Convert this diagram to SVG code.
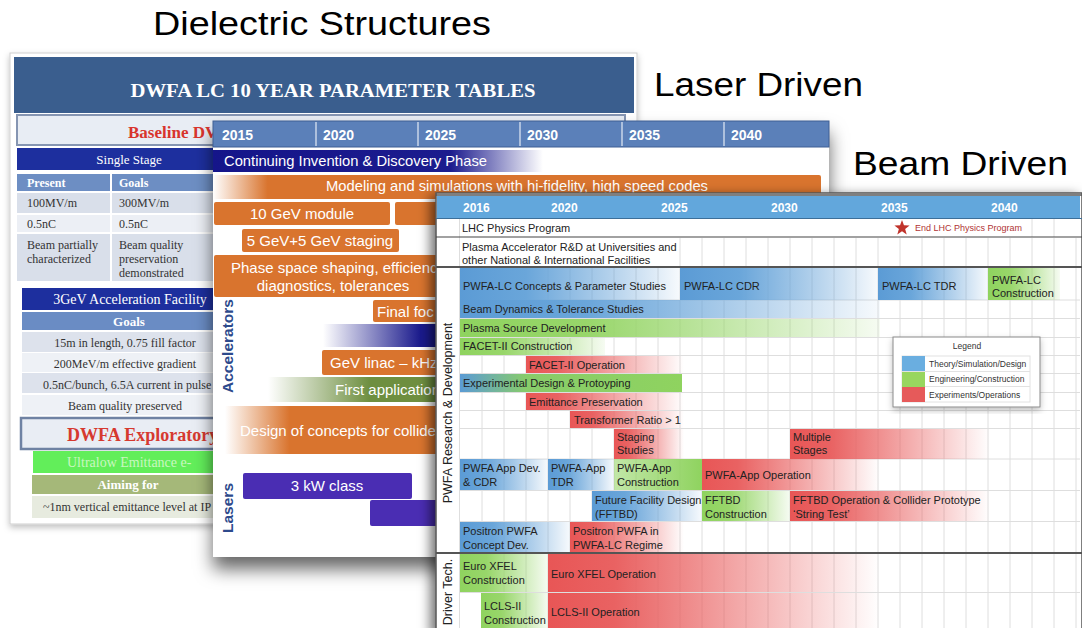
<svg xmlns="http://www.w3.org/2000/svg" width="1082" height="628" viewBox="0 0 1082 628">
<style>
.sans{font-family:"Liberation Sans",Arial,sans-serif}
.serif{font-family:"Liberation Serif","Times New Roman",serif}
.big{font-family:"Liberation Sans",Arial,sans-serif;font-size:34px;fill:#000}
.lt{font-family:"Liberation Serif","Times New Roman",serif;font-size:12px;fill:#333}
.lw{font-family:"Liberation Serif","Times New Roman",serif;fill:#fff}
.ms{font-family:"Liberation Sans",Arial,sans-serif;font-size:15px;fill:#fff}
.myr{font-family:"Liberation Sans",Arial,sans-serif;font-size:14px;font-weight:bold;fill:#fff}
.lab{font-family:"Liberation Sans",Arial,sans-serif;font-size:15.5px;font-weight:bold;fill:#2d4a8c}
.rs{font-family:"Liberation Sans",Arial,sans-serif;font-size:11px;fill:#222}
.ryr{font-family:"Liberation Sans",Arial,sans-serif;font-size:12px;font-weight:bold;fill:#fff}
.lg{font-family:"Liberation Sans",Arial,sans-serif;font-size:8.5px;fill:#333}
.or{fill:#d9742e}
.pu{fill:#4a2db3}
.grid line{stroke:#dedede;stroke-width:1}
</style>
<defs>
<filter id="sh" x="-10%" y="-10%" width="120%" height="135%"><feDropShadow dx="0" dy="12" stdDeviation="9" flood-color="#000" flood-opacity="0.6"/></filter>
<filter id="sh2" x="-10%" y="-10%" width="120%" height="120%"><feDropShadow dx="-5" dy="3" stdDeviation="6" flood-color="#000" flood-opacity="0.55"/></filter>
<filter id="sh3" x="-10%" y="-10%" width="120%" height="120%"><feDropShadow dx="0" dy="3" stdDeviation="3" flood-color="#000" flood-opacity="0.25"/></filter>
<linearGradient id="gDB" x1="0" x2="1" y1="0" y2="0"><stop offset="0" stop-color="#15158a"/><stop offset="0.72" stop-color="#1c1c8e"/><stop offset="1" stop-color="#1c1c8e" stop-opacity="0"/></linearGradient>
<linearGradient id="gOrL" x1="0" x2="1" y1="0" y2="0"><stop offset="0" stop-color="#d9742e" stop-opacity="0"/><stop offset="0.09" stop-color="#d9742e"/><stop offset="1" stop-color="#d9742e"/></linearGradient>
<linearGradient id="gOrL2" x1="0" x2="1" y1="0" y2="0"><stop offset="0" stop-color="#d9742e" stop-opacity="0"/><stop offset="0.28" stop-color="#d9742e"/><stop offset="1" stop-color="#d9742e"/></linearGradient>
<linearGradient id="gBlR" x1="0" x2="1" y1="0" y2="0"><stop offset="0" stop-color="#1a1a8c" stop-opacity="0"/><stop offset="0.75" stop-color="#1a1a8c"/><stop offset="1" stop-color="#1a1a8c"/></linearGradient>
<linearGradient id="gGrR" x1="0" x2="1" y1="0" y2="0"><stop offset="0" stop-color="#6e8f40" stop-opacity="0"/><stop offset="0.55" stop-color="#6e8f40"/><stop offset="1" stop-color="#6e8f40"/></linearGradient>
<linearGradient id="gB" x1="0" x2="1" y1="0" y2="0"><stop offset="0" stop-color="#5b9bd5"/><stop offset="0.3" stop-color="#6aa6da"/><stop offset="1" stop-color="#5b9bd5" stop-opacity="0.05"/></linearGradient>
<linearGradient id="gG" x1="0" x2="1" y1="0" y2="0"><stop offset="0" stop-color="#8fd35f"/><stop offset="0.3" stop-color="#98d66a"/><stop offset="1" stop-color="#8fd35f" stop-opacity="0.08"/></linearGradient>
<linearGradient id="gGl" x1="0" x2="1" y1="0" y2="0"><stop offset="0" stop-color="#8fd35f" stop-opacity="0.55"/><stop offset="1" stop-color="#8fd35f"/></linearGradient>
<linearGradient id="gR" x1="0" x2="1" y1="0" y2="0"><stop offset="0" stop-color="#e85656"/><stop offset="0.2" stop-color="#e96262"/><stop offset="1" stop-color="#e85656" stop-opacity="0"/></linearGradient>
<linearGradient id="gBG" x1="0" x2="1" y1="0" y2="0"><stop offset="0" stop-color="#5b9bd5"/><stop offset="0.3" stop-color="#88cc6a"/><stop offset="1" stop-color="#8fd35f"/></linearGradient>
</defs>

<g id="title-dielectric"><text class="big" x="153" y="35" textLength="338" lengthAdjust="spacingAndGlyphs">Dielectric Structures</text></g>
<g id="title-laser"><text class="big" x="654" y="96" textLength="209" lengthAdjust="spacingAndGlyphs">Laser Driven</text></g>
<g id="title-beam"><text class="big" x="853" y="175" textLength="215" lengthAdjust="spacingAndGlyphs">Beam Driven</text></g>

<!-- Left slide: Dielectric -->
<g id="slide-dielectric">
<rect x="10" y="53" width="627" height="471" fill="#fff" stroke="#cfcfcf" filter="url(#sh3)"/>
<rect x="14" y="57" width="620" height="56" fill="#3a5e8e"/>
<text class="lw" x="333" y="97" font-size="19" font-weight="bold" text-anchor="middle" textLength="405" lengthAdjust="spacingAndGlyphs">DWFA LC 10 YEAR PARAMETER TABLES</text>
<rect x="17" y="115" width="608" height="30" fill="#e8edf4" stroke="#8595b2" stroke-width="2"/>
<text class="serif" x="128" y="138" font-size="17" font-weight="bold" fill="#d8342c">Baseline DV</text>
<rect x="17" y="148" width="196" height="22" fill="#1d2f9e"/>
<text class="lw" x="129" y="164" font-size="13" text-anchor="middle">Single Stage</text>
<rect x="17" y="174" width="93" height="17" fill="#6d8ec3"/>
<rect x="112" y="174" width="101" height="17" fill="#6d8ec3"/>
<text class="lw" x="27" y="187" font-size="12" font-weight="bold">Present</text>
<text class="lw" x="119" y="187" font-size="12" font-weight="bold">Goals</text>
<rect x="17" y="193" width="93" height="20" fill="#d9dfea"/><rect x="112" y="193" width="101" height="20" fill="#d9dfea"/>
<text class="lt" x="27" y="207">100MV/m</text><text class="lt" x="119" y="207">300MV/m</text>
<rect x="17" y="215" width="93" height="17" fill="#eceff5"/><rect x="112" y="215" width="101" height="17" fill="#eceff5"/>
<text class="lt" x="27" y="228">0.5nC</text><text class="lt" x="119" y="228">0.5nC</text>
<rect x="17" y="234" width="93" height="47" fill="#d9dfea"/><rect x="112" y="234" width="101" height="47" fill="#d9dfea"/>
<text class="lt" x="27" y="249">Beam partially</text><text class="lt" x="27" y="263">characterized</text>
<text class="lt" x="119" y="249">Beam quality</text><text class="lt" x="119" y="263">preservation</text><text class="lt" x="119" y="277">demonstrated</text>
<rect x="22" y="288" width="191" height="22" fill="#1d2f9e"/>
<text class="lw" x="130" y="304" font-size="14" text-anchor="middle">3GeV Acceleration Facility</text>
<rect x="22" y="312" width="191" height="18" fill="#6a8cc4"/>
<text class="lw" x="129" y="326" font-size="13" font-weight="bold" text-anchor="middle">Goals</text>
<rect x="22" y="332" width="191" height="20" fill="#dde2ec"/>
<text class="lt" x="125" y="347" text-anchor="middle">15m in length, 0.75 fill factor</text>
<rect x="22" y="353" width="191" height="19" fill="#eef1f6"/>
<text class="lt" x="125" y="368" text-anchor="middle">200MeV/m effective gradient</text>
<rect x="22" y="373" width="191" height="20" fill="#dde2ec"/>
<text class="lt" x="43" y="389">0.5nC/bunch, 6.5A current in pulse</text>
<rect x="22" y="395" width="191" height="20" fill="#eef1f6"/>
<text class="lt" x="125" y="410" text-anchor="middle">Beam quality preserved</text>
<rect x="21" y="418" width="200" height="31" fill="#e9edf4" stroke="#6f82a3" stroke-width="2.5"/>
<text class="serif" x="67" y="441" font-size="18" font-weight="bold" fill="#d6392f">DWFA Exploratory</text>
<rect x="33" y="451" width="180" height="22" fill="#62ee5a"/>
<text class="serif" x="67" y="467" font-size="14" fill="#c9f7c0">Ultralow Emittance e-</text>
<rect x="32" y="475" width="181" height="19" fill="#a5b879"/>
<text class="lw" x="128" y="489" font-size="13" font-weight="bold" text-anchor="middle">Aiming for</text>
<rect x="32" y="496" width="181" height="22" fill="#e7ebdf"/>
<text class="lt" x="43" y="511">~1nm vertical emittance level at IP</text>
</g>

<!-- Middle slide: Laser driven -->
<g id="slide-laser">
<rect x="213" y="121" width="616" height="436" fill="#fff" filter="url(#sh)"/>
<rect x="213" y="121" width="616" height="26" fill="#5b80b9" stroke="#3e5f94"/>
<g stroke="#c8d6ea" stroke-width="1.5"><line x1="316" y1="122" x2="316" y2="146"/><line x1="418" y1="122" x2="418" y2="146"/><line x1="520" y1="122" x2="520" y2="146"/><line x1="622" y1="122" x2="622" y2="146"/><line x1="724" y1="122" x2="724" y2="146"/></g>
<text class="myr" x="222" y="140">2015</text><text class="myr" x="323" y="140">2020</text><text class="myr" x="425" y="140">2025</text><text class="myr" x="527" y="140">2030</text><text class="myr" x="629" y="140">2035</text><text class="myr" x="731" y="140">2040</text>
<rect x="213" y="150" width="330" height="22" fill="url(#gDB)"/>
<text class="ms" x="224" y="166" textLength="263" lengthAdjust="spacingAndGlyphs">Continuing Invention &amp; Discovery Phase</text>
<rect x="213" y="175" width="608" height="24" rx="2" fill="url(#gOrL)"/>
<text class="ms" x="326" y="191" textLength="382" lengthAdjust="spacingAndGlyphs">Modeling and simulations with hi-fidelity, high speed codes</text>
<rect class="or" x="214" y="202" width="176" height="23" rx="2"/>
<text class="ms" x="302" y="219" text-anchor="middle">10 GeV module</text>
<rect class="or" x="395" y="202" width="60" height="23" rx="2"/>
<rect class="or" x="242" y="229" width="157" height="23" rx="2"/>
<text class="ms" x="320" y="246" text-anchor="middle">5 GeV+5 GeV staging</text>
<rect class="or" x="214" y="255" width="240" height="42" rx="2"/>
<text class="ms" x="231" y="273" font-size="16">Phase space shaping, efficienc</text>
<text class="ms" x="333" y="291" font-size="16" text-anchor="middle">diagnostics, tolerances</text>
<text class="lab" transform="translate(233,346) rotate(-90)" text-anchor="middle">Accelerators</text>
<rect class="or" x="373" y="300" width="80" height="22" rx="2"/>
<text class="ms" x="377" y="317" font-size="16">Final foc</text>
<rect x="323" y="324" width="130" height="23" fill="url(#gBlR)"/>
<rect class="or" x="322" y="350" width="130" height="25" rx="2"/>
<text class="ms" x="330" y="368" font-size="16">GeV linac – kHz</text>
<rect x="268" y="377" width="185" height="25" fill="url(#gGrR)"/>
<text class="ms" x="335" y="395" font-size="16" fill="#eef4e0">First application</text>
<rect x="225" y="406" width="230" height="48" fill="url(#gOrL2)"/>
<text class="ms" x="240" y="436" font-size="15.5" fill="#fbeadc">Design of concepts for collider</text>
<rect class="pu" x="243" y="473" width="169" height="26" rx="2"/>
<text class="ms" x="327" y="491" text-anchor="middle">3 kW class</text>
<rect class="pu" x="370" y="500" width="90" height="26" rx="2"/>
<text class="lab" transform="translate(233,508) rotate(-90)" text-anchor="middle">Lasers</text>
</g>

<!-- Right slide: Beam driven -->
<g id="slide-beam">
<rect x="436" y="193" width="646" height="440" fill="#fff" stroke="#555" stroke-width="1.5" filter="url(#sh2)"/>
<rect x="437" y="196" width="643" height="22" fill="#62a7dc"/>
<line x1="436" y1="195" x2="1082" y2="195" stroke="#555" stroke-width="1.5"/>
<line x1="436" y1="218.5" x2="1082" y2="218.5" stroke="#3d6f99" stroke-width="1"/>
<text class="ryr" x="463" y="212">2016</text><text class="ryr" x="551" y="212">2020</text><text class="ryr" x="661" y="212">2025</text><text class="ryr" x="771" y="212">2030</text><text class="ryr" x="881" y="212">2035</text><text class="ryr" x="991" y="212">2040</text>
<g class="grid">
<line x1="459.5" y1="219" x2="459.5" y2="628"/>
<line x1="482" y1="238" x2="482" y2="628"/><line x1="504" y1="238" x2="504" y2="628"/><line x1="526" y1="238" x2="526" y2="628"/><line x1="548" y1="238" x2="548" y2="628"/><line x1="570" y1="238" x2="570" y2="628"/><line x1="592" y1="238" x2="592" y2="628"/><line x1="614" y1="238" x2="614" y2="628"/><line x1="636" y1="238" x2="636" y2="628"/><line x1="658" y1="238" x2="658" y2="628"/><line x1="680" y1="238" x2="680" y2="628"/><line x1="702" y1="238" x2="702" y2="628"/><line x1="724" y1="238" x2="724" y2="628"/><line x1="746" y1="238" x2="746" y2="628"/><line x1="768" y1="238" x2="768" y2="628"/><line x1="790" y1="238" x2="790" y2="628"/><line x1="812" y1="238" x2="812" y2="628"/><line x1="834" y1="238" x2="834" y2="628"/><line x1="856" y1="238" x2="856" y2="628"/><line x1="878" y1="238" x2="878" y2="628"/><line x1="900" y1="238" x2="900" y2="628"/><line x1="922" y1="238" x2="922" y2="628"/><line x1="944" y1="238" x2="944" y2="628"/><line x1="966" y1="238" x2="966" y2="628"/><line x1="988" y1="238" x2="988" y2="628"/><line x1="1010" y1="238" x2="1010" y2="628"/><line x1="1032" y1="238" x2="1032" y2="628"/><line x1="1054" y1="238" x2="1054" y2="628"/><line x1="1076" y1="238" x2="1076" y2="628"/>
<line x1="1032" y1="219" x2="1032" y2="237"/><line x1="1054" y1="219" x2="1054" y2="237"/>
<line x1="460" y1="300" x2="1080" y2="300"/><line x1="460" y1="318.5" x2="1080" y2="318.5"/><line x1="460" y1="337.5" x2="1080" y2="337.5"/><line x1="460" y1="355.5" x2="1080" y2="355.5"/><line x1="460" y1="373.5" x2="1080" y2="373.5"/><line x1="460" y1="392.5" x2="1080" y2="392.5"/><line x1="460" y1="410.5" x2="1080" y2="410.5"/><line x1="460" y1="428.5" x2="1080" y2="428.5"/><line x1="460" y1="459" x2="1080" y2="459"/><line x1="460" y1="490.5" x2="1080" y2="490.5"/><line x1="460" y1="521.5" x2="1080" y2="521.5"/><line x1="460" y1="592.5" x2="1080" y2="592.5"/>
</g>
<rect x="460" y="238" width="218" height="28" fill="#fff"/>
<text class="rs" x="462" y="232">LHC Physics Program</text>
<polygon points="902,220 903.94,225.33 909.61,225.53 905.14,229.02 906.7,234.47 902,231.3 897.3,234.47 898.86,229.02 894.39,225.53 900.06,225.33" fill="#c0332b"/>
<text class="sans" x="915" y="231" font-size="9" fill="#b03434">End LHC Physics Program</text>
<line x1="436" y1="237" x2="1082" y2="237" stroke="#444" stroke-width="1.2"/>
<text class="rs" x="462" y="251">Plasma Accelerator R&amp;D at Universities and</text>
<text class="rs" x="462" y="264">other National &amp; International Facilities</text>
<line x1="436" y1="267" x2="1082" y2="267" stroke="#555" stroke-width="2"/>

<rect x="460" y="268" width="220" height="32" fill="url(#gB)"/>
<text class="rs" x="463" y="290">PWFA-LC Concepts &amp; Parameter Studies</text>
<rect x="680" y="268" width="198" height="32" fill="url(#gB)"/>
<text class="rs" x="684" y="290">PWFA-LC CDR</text>
<rect x="878" y="268" width="110" height="32" fill="url(#gB)"/>
<text class="rs" x="882" y="290">PWFA-LC TDR</text>
<rect x="988" y="268" width="72" height="32" fill="url(#gG)"/>
<text class="rs" x="992" y="284">PWFA-LC</text><text class="rs" x="992" y="297">Construction</text>

<rect x="460" y="300" width="420" height="18" fill="url(#gB)"/>
<text class="rs" x="463" y="313">Beam Dynamics &amp; Tolerance Studies</text>
<rect x="460" y="319" width="420" height="18" fill="url(#gG)"/>
<text class="rs" x="463" y="332">Plasma Source Development</text>
<rect x="460" y="338" width="145" height="17" fill="url(#gG)"/>
<text class="rs" x="463" y="350">FACET-II Construction</text>
<rect x="526" y="356" width="158" height="17" fill="url(#gR)"/>
<text class="rs" x="529" y="369">FACET-II Operation</text>
<rect x="460" y="374" width="222" height="18" fill="url(#gBG)"/>
<text class="rs" x="463" y="387">Experimental Design &amp; Protoyping</text>
<rect x="526" y="393" width="158" height="17" fill="url(#gR)"/>
<text class="rs" x="529" y="406">Emittance Preservation</text>
<rect x="570" y="411" width="114" height="17" fill="url(#gR)"/>
<text class="rs" x="574" y="424">Transformer Ratio &gt; 1</text>
<rect x="614" y="429" width="70" height="30" fill="url(#gR)"/>
<text class="rs" x="617" y="441">Staging</text><text class="rs" x="617" y="454">Studies</text>
<rect x="790" y="429" width="200" height="30" fill="url(#gR)"/>
<text class="rs" x="793" y="441">Multiple</text><text class="rs" x="793" y="454">Stages</text>

<rect x="460" y="459" width="88" height="31" fill="url(#gB)"/>
<text class="rs" x="463" y="472">PWFA App Dev.</text><text class="rs" x="463" y="486">&amp; CDR</text>
<rect x="548" y="459" width="66" height="31" fill="url(#gB)"/>
<text class="rs" x="551" y="472">PWFA-App</text><text class="rs" x="551" y="486">TDR</text>
<rect x="614" y="459" width="88" height="31" fill="url(#gGl)"/>
<text class="rs" x="617" y="472">PWFA-App</text><text class="rs" x="617" y="486">Construction</text>
<rect x="702" y="459" width="178" height="31" fill="url(#gR)"/>
<text class="rs" x="705" y="479">PWFA-App Operation</text>

<rect x="592" y="491" width="110" height="30" fill="url(#gB)"/>
<text class="rs" x="595" y="504">Future Facility Design</text><text class="rs" x="595" y="518">(FFTBD)</text>
<rect x="702" y="491" width="88" height="30" fill="url(#gG)"/>
<text class="rs" x="705" y="504">FFTBD</text><text class="rs" x="705" y="518">Construction</text>
<rect x="790" y="491" width="200" height="30" fill="url(#gR)"/>
<text class="rs" x="793" y="504">FFTBD Operation &amp; Collider Prototype</text><text class="rs" x="793" y="518">‘String Test’</text>

<rect x="460" y="522" width="110" height="30" fill="url(#gB)"/>
<text class="rs" x="463" y="535">Positron PWFA</text><text class="rs" x="463" y="549">Concept Dev.</text>
<rect x="570" y="522" width="114" height="30" fill="url(#gR)"/>
<text class="rs" x="573" y="535">Positron PWFA in</text><text class="rs" x="573" y="549">PWFA-LC Regime</text>
<line x1="436" y1="553" x2="1082" y2="553" stroke="#555" stroke-width="2"/>

<rect x="460" y="554" width="88" height="38" fill="url(#gG)"/>
<text class="rs" x="463" y="570">Euro XFEL</text><text class="rs" x="463" y="584">Construction</text>
<rect x="548" y="554" width="332" height="38" fill="url(#gR)"/>
<text class="rs" x="551" y="578">Euro XFEL Operation</text>
<rect x="481" y="593" width="67" height="35" fill="url(#gG)"/>
<text class="rs" x="484" y="610">LCLS-II</text><text class="rs" x="484" y="624">Construction</text>
<rect x="548" y="593" width="332" height="35" fill="url(#gR)"/>
<text class="rs" x="551" y="616">LCLS-II Operation</text>

<text class="sans" transform="translate(452,413) rotate(-90)" font-size="12.5" fill="#222" text-anchor="middle">PWFA Research &amp; Development</text>
<text class="sans" transform="translate(452,592) rotate(-90)" font-size="12.5" fill="#222" text-anchor="middle">Driver Tech.</text>

<g id="legend">
<rect x="893" y="337" width="147" height="70" fill="#fff" stroke="#8a8a8a" filter="url(#sh3)"/>
<text class="lg" x="967" y="349" text-anchor="middle">Legend</text>
<rect x="902" y="356" width="128" height="46" fill="none" stroke="#e2e2e2"/>
<line x1="902" y1="371.5" x2="1030" y2="371.5" stroke="#e2e2e2"/><line x1="902" y1="386.5" x2="1030" y2="386.5" stroke="#e2e2e2"/>
<rect x="902" y="356" width="23" height="15" fill="#6aaee0"/>
<rect x="902" y="372" width="23" height="15" fill="#98d65f"/>
<rect x="902" y="387" width="23" height="15" fill="#e65a5a"/>
<text class="lg" x="929" y="367">Theory/Simulation/Design</text>
<text class="lg" x="929" y="382">Engineering/Construction</text>
<text class="lg" x="929" y="398">Experiments/Operations</text>
</g>
</g>
</svg>
